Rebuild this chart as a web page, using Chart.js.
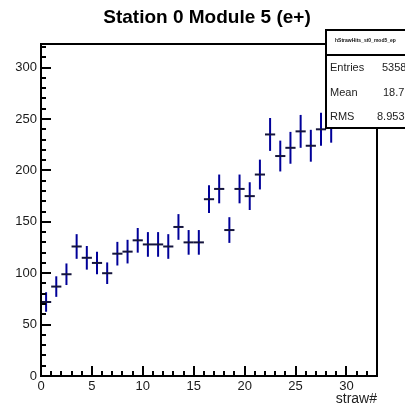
<!DOCTYPE html>
<html>
<head>
<meta charset="utf-8">
<script src="https://cdn.jsdelivr.net/npm/chart.js@4.4.1/dist/chart.umd.min.js"></script>
<style>
  html, body { margin: 0; padding: 0; background: #fff; }
  #c { display: block; }
</style>
</head>
<body>
<canvas id="c" width="405" height="409"></canvas>
<script>
// straw bins (lower edge), hit counts and their errors
const binLow = [0, 1, 2, 3, 4, 5, 6, 7, 8, 9, 10, 11, 12, 13, 14, 15, 16, 17, 18, 19, 20, 21, 22, 23, 24, 25, 26, 27, 28];
const counts = [72, 87, 99, 126, 115, 110, 100, 119, 121, 132, 128, 128, 126, 145, 130, 130, 172, 182, 142, 182, 175, 196, 235, 214, 222, 238, 224, 240, 243];
const errors = [9.5, 10, 10.5, 12, 11.5, 11, 10.5, 11.5, 11.5, 12, 12, 12, 12, 12.5, 12, 12, 13.5, 14, 12.5, 14, 13.5, 14.5, 16, 15, 15.5, 16, 15.5, 16, 16];

const xTickLabels = [0, 5, 10, 15, 20, 25, 30];
const yTickLabels = [0, 50, 100, 150, 200, 250, 300];

const statsNames = ['Entries', 'Mean', 'RMS'];
const statsValues = ['5358', '18.71', '8.953'];

const font = '"Liberation Sans", Arial, Helvetica, sans-serif';

const rootStyle = {
    id: 'rootStyle',
    afterDatasetsDraw(chart) {
        const ctx = chart.ctx;
        const x = chart.scales.x;
        const y = chart.scales.y;
        ctx.save();
        ctx.lineWidth = 2;
        binLow.forEach(function(b, i) {
            let px = x.getPixelForValue(b + 0.5);
            let py = y.getPixelForValue(counts[i]);
            ctx.strokeStyle = '#000099';
            ctx.beginPath();
            ctx.moveTo(px, y.getPixelForValue(counts[i] - errors[i]));
            ctx.lineTo(px, y.getPixelForValue(counts[i] + errors[i]));
            ctx.stroke();
            ctx.strokeStyle = '#14143c';
            ctx.beginPath();
            ctx.moveTo(x.getPixelForValue(b), py);
            ctx.lineTo(x.getPixelForValue(b + 1), py);
            ctx.stroke();
        });
        ctx.restore();
    },
    afterDraw(chart) {
        const ctx = chart.ctx;
        const a = chart.chartArea;
        const x = chart.scales.x;
        const y = chart.scales.y;
        ctx.save();
        ctx.strokeStyle = '#000';
        ctx.lineWidth = 2;
        ctx.strokeRect(a.left, a.top, a.right - a.left, a.bottom - a.top);

        // ROOT style inward ticks
        ctx.beginPath();
        for (let v = 0; v <= y.max; v += 10) {
            let len = v % 50 === 0 ? 10 : 5;
            let py = Math.round(y.getPixelForValue(v));
            ctx.moveTo(a.left, py);
            ctx.lineTo(a.left + len, py);
        }
        for (let v = 0; v <= x.max; v += 1) {
            let len = v % 5 === 0 ? 10 : 5;
            let px = Math.round(x.getPixelForValue(v));
            ctx.moveTo(px, a.bottom);
            ctx.lineTo(px, a.bottom - len);
        }
        ctx.stroke();

        // axis title
        ctx.fillStyle = '#222';
        ctx.font = '14px ' + font;
        ctx.textAlign = 'right';
        ctx.textBaseline = 'alphabetic';
        ctx.fillText('straw#', a.right, 403);

        // stats box
        ctx.fillStyle = '#fff';
        ctx.fillRect(326, 30, 90, 98);
        ctx.strokeRect(326, 30, 90, 98);
        ctx.beginPath();
        ctx.moveTo(326, 55);
        ctx.lineTo(410, 55);
        ctx.stroke();
        ctx.fillStyle = '#111';
        ctx.textAlign = 'left';
        ctx.font = 'bold 5px ' + font;
        ctx.fillText('hStrawHits_st0_mod5_ep', 335, 42);
        ctx.fillStyle = '#222';
        ctx.font = '11px ' + font;
        const rowsY = [71, 96, 120];
        const valX = [382, 383, 377];
        statsNames.forEach(function(n, i) {
            ctx.fillText(n, 330, rowsY[i]);
            ctx.fillText(statsValues[i], valX[i], rowsY[i]);
        });

        // title
        ctx.fillStyle = '#000';
        ctx.font = 'bold 19px ' + font;
        ctx.textAlign = 'center';
        ctx.fillText('Station 0 Module 5 (e+)', 207, 23);
        ctx.restore();
    }
};

const ctx = document.getElementById('c').getContext('2d');
new Chart(ctx, {
    type: 'scatter',
    data: {
        datasets: [{
            label: 'straw hits',
            data: binLow.map((b, i) => ({ x: b + 0.5, y: counts[i] })),
            pointRadius: 0,
            showLine: false
        }]
    },
    options: {
        responsive: false,
        animation: false,
        devicePixelRatio: 1,
        layout: { padding: { top: 44, right: 28, left: 0, bottom: 0 } },
        plugins: {
            legend: { display: false },
            tooltip: { enabled: false },
            title: { display: false }
        },
        scales: {
            x: {
                type: 'linear',
                min: 0,
                max: 33,
                afterFit: s => { s.height = 33; },
                grid: { display: false, drawTicks: false },
                border: { display: false },
                ticks: {
                    stepSize: 5,
                    autoSkip: false,
                    maxRotation: 0,
                    padding: 3,
                    color: '#1a1a1a',
                    font: { family: font, size: 13 },
                    callback: v => xTickLabels.includes(v) ? String(v) : ''
                }
            },
            y: {
                type: 'linear',
                min: 0,
                max: 323,
                afterFit: s => { s.width = 41; },
                grid: { display: false, drawTicks: false },
                border: { display: false },
                ticks: {
                    stepSize: 50,
                    autoSkip: false,
                    padding: 4,
                    color: '#1a1a1a',
                    font: { family: font, size: 13 },
                    callback: v => yTickLabels.includes(v) ? String(v) : ''
                }
            }
        }
    },
    plugins: [rootStyle]
});
</script>
</body>
</html>
